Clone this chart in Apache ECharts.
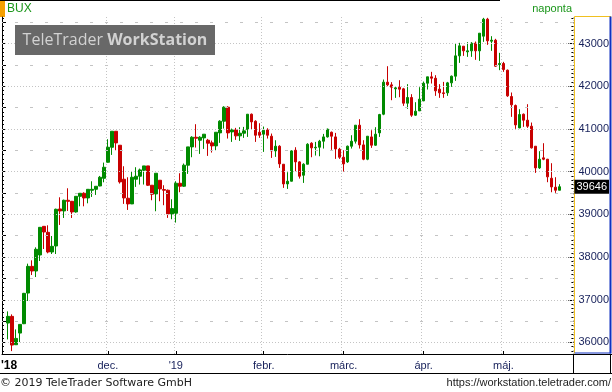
<!DOCTYPE html>
<html>
<head>
<meta charset="utf-8">
<script src="https://cdn.jsdelivr.net/npm/echarts@6/dist/echarts.min.js"></script>
<style>
html,body{margin:0;padding:0;background:#fff;}
#chart{width:612px;height:392px;}
</style>
</head>
<body>
<div id="chart"></div>
<script>
// ---- trading days per month ----
const oct2018 = [25,26,29,30,31];
const nov2018 = [5,6,7,8,9,12,13,14,15,16,19,20,21,22,23,26,27,28,29,30];
const dec2018 = [3,4,5,6,7,10,11,12,13,14,17,18,19,20,21,27,28];
const jan2019 = [2,3,4,7,8,9,10,11,14,15,16,17,18,21,22,23,24,25,28,29,30,31];
const feb2019 = [1,4,5,6,7,8,11,12,13,14,15,18,19,20,21,22,25,26,27,28];
const mar2019 = [1,4,5,6,7,8,11,12,13,14,18,19,20,21,22,25,26,27,28,29];
const apr2019 = [1,2,3,4,5,8,9,10,11,12,15,16,17,18,23,24,25,26,29,30];
const may2019 = [2,3,6,7,8,9,10,13,14,15,16,17,20,21,22];

// ---- OHLC values (BUX, daily) ----
const open = [36455,36611,35947,36220,36439,37157,37782,37673,38048,38719,
38579,38118,38259,39126,39079,39329,39305,39055,39422,39493,
39383,39563,39586,39664,39844,40219,40570,40945,40618,39822,
39377,39244,39822,39892,40032,40134,39681,39478,39798,39580,
39564,39010,39025,39728,39658,40150,40579,40805,40735,40790,
40735,40673,40602,40907,41180,41508,40930,40977,40837,40899,
40985,41344,41180,40922,40876,40977,40829,40485,40595,40173,
39712,39775,40501,40228,39915,40173,40665,40556,40571,40712,
40813,40922,40813,40524,40337,40228,40595,40712,41087,40626,
40290,40813,40618,40907,41344,42094,42031,41938,41977,41938,
41602,41735,41321,41422,41656,42070,42219,42187,41930,41844,
41844,42078,42234,42710,42937,42804,42828,43007,42828,43171,
43569,43054,43077,42507,42531,42375,41758,41547,41024,41344,
41204,41063,40595,40087,40322,40290,39845,39635,39564];
const close = [36611,35939,36095,36423,37150,37782,37673,38181,38696,38587,
38118,38251,39118,39079,39329,39305,39055,39422,39493,39383,
39586,39586,39657,39868,40102,40570,40945,40672,39759,39384,
39244,39868,39892,40040,40134,39681,39470,39962,39595,39564,
39010,39135,39728,39658,40150,40579,40805,40782,40805,40876,
40665,40602,40922,41180,41508,40907,40977,40837,40899,40954,
41344,41164,40852,40852,40969,40852,40485,40595,40181,39712,
39775,40485,40228,39892,40173,40641,40556,40571,40712,40813,
40993,40829,40532,40337,40181,40595,40712,41087,40626,40290,
40829,40618,40876,41336,42094,42031,41977,41961,41930,41602,
41735,41321,41414,41696,42070,42219,42187,41891,41844,41828,
42078,42234,42710,42945,42828,42828,43007,42828,43241,43569,
43062,43077,42468,42531,42390,41774,41563,41094,41336,41204,
41063,40556,40087,40290,40290,39877,39642,39564,39646];
const low = [36072,35798,35940,36009,36430,36970,37579,37532,37907,38188,
38087,38071,38071,38751,38915,39079,38915,39040,39188,39188,
39258,39407,39454,39657,39750,40210,40391,40500,39720,39244,
39103,39240,39642,39697,39697,39665,39330,39072,39306,39213,
38916,38885,38807,39517,39642,39947,40337,40563,40415,40532,
40368,40446,40501,40673,41008,40774,40696,40743,40719,40790,
40813,40985,40696,40790,40462,40774,40321,40345,40087,39619,
39595,39770,40009,39837,39736,40170,40337,40376,40360,40540,
40798,40509,40298,40298,40001,40204,40540,40657,40540,40267,
40267,40556,40603,40813,41321,42000,41672,41727,41742,41539,
41469,41282,41305,41420,41650,41922,42062,41774,41727,41727,
41774,41984,42125,42546,42710,42687,42687,42617,42593,43038,
42968,42828,42453,42375,42336,41750,41282,41001,41016,41048,
41024,40540,39970,40064,40267,39752,39517,39502,39564];
const high = [36728,36658,36306,36423,37160,37845,37923,38227,38700,38720,
38743,38493,39133,39399,39344,39610,39313,39422,39493,39516,
39586,39774,39657,39899,40211,40758,40945,40945,40618,40126,
39868,40001,40103,40071,40134,40134,39681,39962,39798,39681,
39580,39353,39775,39962,40189,40579,40829,41110,40829,40876,
40766,40727,40922,41203,41531,41531,41008,41024,41039,41047,
41344,41360,41203,41133,41055,41016,40891,40735,40618,40173,
39986,40501,40571,40243,40196,40665,40688,40696,40743,40883,
41008,40938,40907,40556,40501,40610,40852,41087,41227,40735,
40829,40969,41040,41352,42156,42468,42094,41984,42140,41961,
42047,41813,41625,41977,42109,42219,42336,42258,42047,42101,
42101,42250,42999,43015,42937,43031,43031,43046,43241,43600,
43600,43171,43109,42781,42570,42390,41852,41571,41461,41360,
41578,41149,40595,40478,40665,40298,40197,39869,39705];

// ---- axis labels ----
const monthStarts = ['2018-12-03','2019-01-02','2019-02-01','2019-03-01','2019-04-01','2019-05-02'];
const monthLabels = ['dec.', "'19", 'febr.', 'márc.', 'ápr.', 'máj.'];
const gridLevels = [36000,37000,38000,39000,40000,41000,42000,43000];
const halfLevels = [36500,37500,38500,39500,40500,41500,42500,43500];

// ---- build categories ----
function pad(n){return (n<10?'0':'')+n;}
const dates = [];
[['2018-10',oct2018],['2018-11',nov2018],['2018-12',dec2018],['2019-01',jan2019],
 ['2019-02',feb2019],['2019-03',mar2019],['2019-04',apr2019],['2019-05',may2019]]
 .forEach(([m,ds])=>ds.forEach(d=>dates.push(m+'-'+pad(d))));

const cats = [' '].concat(dates, ['  ','   ','    ']);
const ohlc = ['-'].concat(dates.map((d,i)=>[open[i],close[i],low[i],high[i]]), ['-','-','-']);
const isMonth = (idx)=> monthStarts.indexOf(cats[idx]) >= 0;

// small axis ticks every 100 points between the labelled levels
const Y_MIN = 35730, Y_MAX = 43620;
const minorTicks = [];
for (let v = 35800; v <= 43600; v += 100) minorTicks.push(v);
const midTicks = gridLevels.concat(halfLevels);

const UP = '#008a00', DOWN = '#c80000';
const LABEL_COLOR = '#16205a';
const GRID_COLOR = '#c4c4c4';
const lastClose = close[close.length-1];

const chart = echarts.init(document.getElementById('chart'), null, {renderer:'canvas'});

const yCommon = {type:'value', min:Y_MIN, max:Y_MAX, splitLine:{show:false}};

const option = {
  animation:false,
  backgroundColor:'#fff',
  grid:{left:2, right:38, top:17, bottom:38, containLabel:false},
  xAxis:{
    type:'category', data:cats, boundaryGap:true,
    axisLine:{show:true, lineStyle:{color:'#000', width:1}},
    axisTick:{show:true, inside:true, length:3, alignWithLabel:true, interval:(i)=>isMonth(i), lineStyle:{color:'#000'}},
    axisLabel:{show:true, interval:(i)=>isMonth(i), margin:6, color:LABEL_COLOR, fontSize:11,
      fontFamily:'Liberation Sans',
      formatter:(v)=>{const k=monthStarts.indexOf(v); return k>=0?monthLabels[k]:'';}},
    splitLine:{show:true, interval:(i)=>isMonth(i), lineStyle:{color:GRID_COLOR, type:[1,2]}}
  },
  yAxis:[
    Object.assign({}, yCommon, {position:'right',
      axisLine:{show:false},
      axisTick:{show:true, inside:true, length:5, customValues:gridLevels, lineStyle:{color:'#000'}},
      axisLabel:{show:true, margin:5, color:LABEL_COLOR, fontSize:11, fontFamily:'Liberation Sans',
        customValues:gridLevels, formatter:(v)=>String(v)}}),
    Object.assign({}, yCommon, {position:'right',
      axisLine:{show:false}, axisLabel:{show:false},
      axisTick:{show:true, inside:true, length:2, customValues:minorTicks, lineStyle:{color:'#000'}}}),
    Object.assign({}, yCommon, {position:'left',
      axisLine:{show:true, lineStyle:{color:'#000'}}, axisLabel:{show:false},
      axisTick:{show:true, inside:true, length:4, customValues:midTicks, lineStyle:{color:'#000'}}}),
    Object.assign({}, yCommon, {position:'left',
      axisLine:{show:false}, axisLabel:{show:false},
      axisTick:{show:true, inside:true, length:2, customValues:minorTicks, lineStyle:{color:'#000'}}})
  ],
  series:[
    {
      type:'line', data:[], yAxisIndex:0, z:1, silent:true,
      markLine:{
        silent:true, symbol:['none','none'], animation:false, label:{show:false},
        data: gridLevels.map(v=>({yAxis:v, lineStyle:{color:GRID_COLOR, type:[1,2], width:1}}))
          .concat(halfLevels.map(v=>({yAxis:v, lineStyle:{color:GRID_COLOR, type:[3,12], dashOffset:2, width:1}})))
      }
    },
    {
      type:'candlestick', data:ohlc, yAxisIndex:0, z:3, barWidth:3,
      itemStyle:{color:UP, color0:DOWN, borderColor:UP, borderColor0:DOWN, borderWidth:1},
      markLine:{
        silent:true, symbol:['none','none'], animation:false, z:20,
        data:[{yAxis:lastClose, lineStyle:{color:'rgba(0,0,0,0)', width:1},
          label:{show:true, position:'end', distance:1, formatter:String(lastClose),
            backgroundColor:'#000', color:'#fff', fontSize:11, fontFamily:'Liberation Sans',
            padding:[2,2,1,2]}}]
      }
    }
  ],
  graphic:[
    {type:'rect', shape:{x:0,y:0,width:500,height:1}, style:{fill:'#000'}, silent:true},
    {type:'rect', shape:{x:0,y:1,width:5,height:16}, style:{fill:'#f5a000'}, silent:true},
    {type:'text', x:7, y:9, style:{text:'BUX', fill:'#1a961a', font:'12px "Liberation Sans"', textVerticalAlign:'middle'}},
    {type:'text', x:572, y:9, style:{text:'naponta', fill:'#1a961a', font:'11px "Liberation Sans"', textAlign:'right', textVerticalAlign:'middle'}},
    {type:'rect', shape:{x:15,y:25,width:200,height:30}, style:{fill:'#686868'}, silent:true, z:10},
    {type:'text', x:115, y:40, z:11, style:{
      text:'{a|TeleTrader }{b|WorkStation}', textAlign:'center', textVerticalAlign:'middle',
      rich:{a:{fill:'#d2d2d2', font:'16px "Open Sans"'}, b:{fill:'#d2d2d2', font:'bold 16px "Open Sans"'}}}},
    // right value box
    {type:'line', shape:{x1:574.5,y1:16.5,x2:611,y2:16.5}, style:{stroke:'#f0c020', lineWidth:1}},
    {type:'line', shape:{x1:574.5,y1:16.5,x2:574.5,y2:353.5}, style:{stroke:'#f0c020', lineWidth:1}},
    {type:'line', shape:{x1:610.5,y1:16.5,x2:610.5,y2:353.5}, style:{stroke:'#1030c0', lineWidth:2}},
    {type:'line', shape:{x1:574.5,y1:353,x2:611,y2:353}, style:{stroke:'#1030c0', lineWidth:1}},
    // bottom axis row frame
    {type:'line', shape:{x1:574,y1:354.5,x2:612,y2:354.5}, style:{stroke:'#000', lineWidth:1}},
    {type:'line', shape:{x1:0,y1:373.5,x2:612,y2:373.5}, style:{stroke:'#000', lineWidth:1}},
    {type:'line', shape:{x1:573.5,y1:354,x2:573.5,y2:374}, style:{stroke:'#000', lineWidth:1}},
    {type:'line', shape:{x1:610.5,y1:354,x2:610.5,y2:374}, style:{stroke:'#000', lineWidth:1}},
    {type:'text', x:1, y:366, style:{text:"'18", fill:'#000', font:'bold 12px "Liberation Sans"', textVerticalAlign:'middle'}},
    {type:'text', x:0, y:383, style:{text:'© 2019 TeleTrader Software GmbH', fill:'#222', font:'11px "DejaVu Sans"', textVerticalAlign:'middle'}},
    {type:'text', x:611, y:383, style:{text:'https://workstation.teletrader.com/', fill:'#222', font:'11px "Liberation Sans"', textAlign:'right', textVerticalAlign:'middle'}}
  ]
};
chart.setOption(option);
</script>
</body>
</html>
